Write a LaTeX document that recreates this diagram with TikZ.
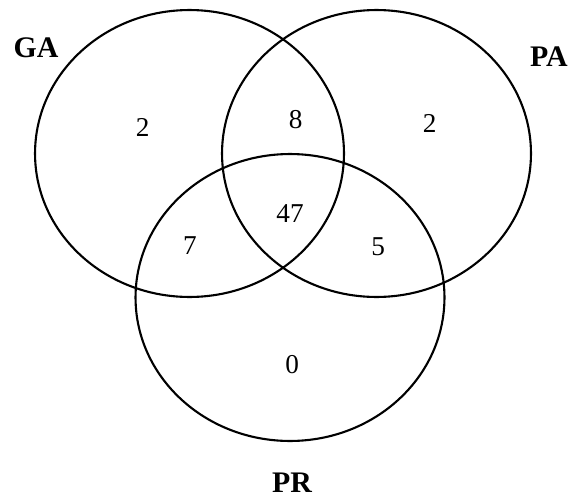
\documentclass[tikz,border=0pt]{standalone}
\usepackage{fontspec}
\setmainfont{Liberation Serif}
\usetikzlibrary{shapes.geometric}
\begin{document}
\begin{tikzpicture}[x=0.02cm, y=-0.02cm,
		conjunto/.style={ellipse, draw, line width=1.2pt, minimum width=6.18cm, minimum height=5.74cm, inner sep=0pt},
		etiqueta/.style={font=\fontsize{17}{20}\selectfont\bfseries},
		cuenta/.style={font=\fontsize{15.5}{18}\selectfont}]

	\useasboundingbox (0,0) rectangle (568,497);

	\node[conjunto] (ga) at (189.5,153.5) {};
	\node[conjunto] (pa) at (376.5,153.5) {};
	\node[conjunto] (pr) at (290,297.5) {};

	% Nombres de los conjuntos
	\node[etiqueta] (lga) at (36,48) {GA};
	\node[etiqueta] (lpa) at (549,57) {PA};
	\node[etiqueta] (lpr) at (292,483) {PR};

	% Cantidades por region
	\node[cuenta] (n1) at (142.7,127.7) {2};
	\node[cuenta] (n2) at (295.7,120) {8};
	\node[cuenta] (n3) at (429.7,123.3) {2};
	\node[cuenta] (n4) at (290,213.3) {47};
	\node[cuenta] (n5) at (190,246) {7};
	\node[cuenta] (n6) at (378.3,246.7) {5};
	\node[cuenta] (n7) at (292.3,365) {0};

\end{tikzpicture}
\end{document}
